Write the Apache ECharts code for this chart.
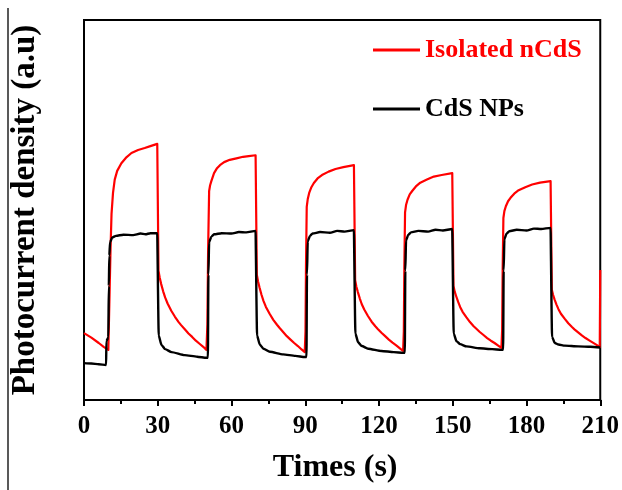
<!DOCTYPE html>
<html>
<head>
<meta charset="utf-8">
<script src="https://cdn.jsdelivr.net/npm/echarts@6/dist/echarts.min.js"></script>
<style>
html,body{margin:0;padding:0;background:#fff;}
#chart{width:622px;height:490px;}
</style>
</head>
<body>
<div id="chart"></div>
<script>
// ---- Data ----
var seriesNames = ['Isolated nCdS', 'CdS NPs'];
var xTicks = [0, 30, 60, 90, 120, 150, 180, 210];

// Isolated nCdS (red)
var redTimes = [
  0, 3, 6, 8, 9.9,
  10, 10.4, 10.8, 11.2, 11.8, 12.5, 13.5, 15.2, 17, 19.3, 22, 24.7, 27, 29.8,
  30, 30.3, 30.8, 31.4, 32.2, 33, 34, 35.5, 37, 38.5, 39.5, 41, 42.5, 44, 45.5, 47, 48.5, 49.8,
  50, 50.2, 50.5, 50.9, 51.3, 51.8, 52.9, 54, 55.3, 57, 59.3, 62, 64.7, 67, 69.8,
  70, 70.3, 70.8, 71.4, 72.2, 73, 74, 75.5, 77, 78.5, 79.5, 81, 82.5, 84, 85.5, 87, 88.5, 89.8,
  90, 90.1, 90.3, 90.6, 91, 91.6, 92.5, 93.5, 95, 96.8, 99.5, 102.3, 105.5, 109.8,
  110, 110.3, 110.8, 111.4, 112.2, 113, 114, 115.5, 117, 118.5, 119.5, 121, 122.5, 124, 125.5, 127, 128.5, 129.8,
  130, 130.1, 130.3, 130.6, 131, 131.6, 132.5, 133.5, 135, 136.8, 139.5, 142.3, 145.5, 149.8,
  150, 150.3, 150.8, 151.4, 152.2, 153, 154, 155.5, 157, 158.5, 159.5, 161, 162.5, 164, 165.5, 167, 168.5, 169.8,
  170, 170.1, 170.3, 170.6, 171, 171.6, 172.5, 173.5, 175, 176.8, 179.5, 182.3, 185.5, 189.8,
  190, 190.3, 190.8, 191.4, 192.2, 193, 194, 195.5, 197, 198.5, 199.5, 201, 202.5, 204, 205.5, 207, 208.5, 209.8, 210
];
var redValues = [
  17.6, 16.4, 15.0, 14.0, 13.2,
  13.2, 28.0, 40.0, 49.0, 54.5, 58.0, 60.3, 62.3, 63.7, 65.0, 65.8, 66.3, 66.8, 67.4,
  67.4, 34.0, 32.2, 30.5, 28.6, 27.0, 25.4, 23.5, 21.9, 20.5, 19.7, 18.6, 17.5, 16.6, 15.6, 14.8, 14.0, 13.2,
  13.2, 20.0, 40.0, 55.0, 56.5, 57.6, 59.7, 60.9, 61.8, 62.6, 63.2, 63.6, 64.0, 64.2, 64.4,
  64.4, 33.0, 31.2, 29.6, 27.7, 26.1, 24.5, 22.7, 21.1, 19.8, 19.0, 17.9, 16.8, 15.9, 15.0, 14.2, 13.3, 12.6,
  12.6, 18.0, 35.0, 50.8, 52.8, 54.5, 56.0, 57.1, 58.3, 59.2, 60.1, 60.8, 61.3, 61.8,
  61.8, 31.5, 29.8, 28.4, 26.7, 25.2, 23.8, 22.1, 20.6, 19.4, 18.7, 17.7, 16.8, 15.9, 15.1, 14.4, 13.6, 12.9,
  12.9, 18.0, 34.4, 49.4, 51.3, 52.7, 54.1, 55.0, 56.2, 57.2, 58.0, 58.8, 59.2, 59.7,
  59.7, 30.0, 28.5, 27.3, 25.8, 24.5, 23.2, 21.8, 20.5, 19.4, 18.8, 17.9, 17.1, 16.3, 15.6, 15.0, 14.3, 13.7,
  13.7, 18.5, 33.9, 47.9, 49.7, 51.0, 52.3, 53.2, 54.3, 55.2, 56.0, 56.7, 57.2, 57.6,
  57.6, 29.0, 27.7, 26.5, 25.1, 23.9, 22.7, 21.4, 20.2, 19.2, 18.6, 17.8, 17.0, 16.3, 15.7, 15.1, 14.5, 13.9, 34.2
];

// CdS NPs (black)
var blackTimes = [
  0, 3, 6, 9, 9.1, 9.9,
  10.1, 10.3, 10.6, 11.5, 13, 16, 20, 23, 25, 27, 29.8,
  30, 30.4, 31.5, 33, 35.6, 41, 46, 49.8,
  50.4, 50.6, 50.9, 51.8, 53, 56, 60, 63, 66, 69.8,
  70, 70.4, 71.5, 73, 75.6, 81, 86, 89.8,
  90.5, 90.7, 91.0, 91.9, 93, 96, 100, 103, 106, 109.8,
  110, 110.4, 111.5, 113, 115.6, 121, 126, 129.8,
  130.5, 130.7, 131.0, 131.9, 133, 136, 140, 143, 146, 149.8,
  150, 150.4, 151.5, 153, 155.6, 161, 166, 169.8,
  170.5, 170.7, 171.0, 171.9, 173, 176, 180, 183, 186, 189.8,
  190, 190.4, 191.5, 193, 195.6, 201, 206, 210
];
var blackValues = [
  9.7, 9.6, 9.4, 9.2, 15.5, 16.5,
  30.0, 38.0, 41.5, 42.8, 43.2, 43.5, 43.4, 43.8, 43.6, 43.9, 43.9,
  43.9, 17.0, 14.5, 13.4, 12.6, 11.8, 11.4, 11.1,
  11.1, 33.0, 41.5, 43.0, 43.6, 43.9, 43.8, 44.2, 44.1, 44.5,
  44.5, 17.0, 14.6, 13.5, 12.7, 12.0, 11.6, 11.3,
  11.3, 33.0, 41.7, 43.2, 43.8, 44.2, 44.0, 44.5, 44.3, 44.7,
  44.7, 17.5, 15.2, 14.2, 13.5, 12.9, 12.6, 12.4,
  12.4, 34.0, 42.0, 43.5, 44.1, 44.5, 44.3, 44.8, 44.6, 45.0,
  45.0, 17.5, 15.5, 14.7, 14.1, 13.6, 13.4, 13.2,
  13.2, 34.0, 42.3, 43.8, 44.4, 44.8, 44.6, 45.1, 45.0, 45.3,
  45.3, 16.6, 15.0, 14.6, 14.3, 14.1, 14.0, 13.8
];

function pairs(ts, vs) {
  var out = [];
  for (var i = 0; i < ts.length; i++) out.push([ts[i], vs[i]]);
  return out;
}

var FONT = "'Liberation Serif', 'Times New Roman', serif";
var RED = '#ff0000';

var chart = echarts.init(document.getElementById('chart'), null, {renderer: 'canvas'});
chart.setOption({
  animation: false,
  backgroundColor: '#ffffff',
  grid: {
    left: 84, top: 20, width: 518, height: 380,
    show: true, borderColor: '#000', borderWidth: 2, backgroundColor: 'transparent'
  },
  legend: {
    orient: 'vertical',
    left: 368, top: 32,
    itemWidth: 47, itemHeight: 3,
    itemGap: 33,
    icon: 'rect',
    textStyle: {fontFamily: FONT, fontWeight: 'bold', fontSize: 26, lineHeight: 26},
    data: [
      {name: seriesNames[0], textStyle: {color: RED}},
      {name: seriesNames[1], textStyle: {color: '#000'}}
    ]
  },
  xAxis: {
    type: 'value', min: xTicks[0], max: xTicks[xTicks.length - 1], interval: 30,
    name: 'Times (s)', nameLocation: 'middle', nameGap: 52,
    nameTextStyle: {fontFamily: FONT, fontWeight: 'bold', fontSize: 32, color: '#000', padding: [0, 14, 0, 0]},
    axisLine: {lineStyle: {color: '#000', width: 2}},
    axisTick: {show: true, inside: false, length: 6, lineStyle: {color: '#000', width: 2}},
    minorTick: {show: true, splitNumber: 2, length: 4, lineStyle: {color: '#000', width: 2}},
    axisLabel: {fontFamily: FONT, fontWeight: 'bold', fontSize: 25, color: '#000', margin: 14},
    splitLine: {show: false}
  },
  yAxis: {
    type: 'value', min: 0, max: 100,
    name: 'Photocurrent density (a.u)', nameLocation: 'middle', nameGap: 42, nameRotate: 90,
    nameTextStyle: {fontFamily: FONT, fontWeight: 'bold', fontSize: 33, color: '#000'},
    axisLine: {show: true, lineStyle: {color: '#000', width: 2}},
    axisTick: {show: false},
    axisLabel: {show: false},
    splitLine: {show: false}
  },
  graphic: [{
    type: 'line', shape: {x1: 8, y1: 8, x2: 8, y2: 490},
    style: {stroke: '#222', lineWidth: 1.5}
  }],
  series: [
    {
      name: seriesNames[0], type: 'line', showSymbol: false,
      data: pairs(redTimes, redValues),
      itemStyle: {color: RED},
      lineStyle: {color: RED, width: 2.2, join: 'round'}
    },
    {
      name: seriesNames[1], type: 'line', showSymbol: false,
      smooth: 0.2, smoothMonotone: 'x',
      data: pairs(blackTimes, blackValues),
      itemStyle: {color: '#000'},
      lineStyle: {color: '#000', width: 2.4}
    }
  ]
});
</script>
</body>
</html>
